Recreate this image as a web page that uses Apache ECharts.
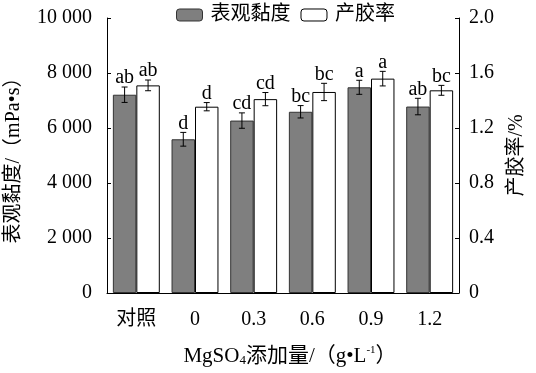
<!DOCTYPE html>
<html><head><meta charset="utf-8">
<script src="https://cdn.jsdelivr.net/npm/echarts@6/dist/echarts.min.js"></script>
<style>html,body{margin:0;padding:0;background:#fff}#c{width:536px;height:373px}</style>
</head><body><div id="c"></div>
<script>
const categories = ['对照', '0', '0.3', '0.6', '0.9', '1.2'];
const viscosity = [7210, 5590, 6270, 6590, 7480, 6780];
const viscosityErr = [280, 250, 280, 225, 255, 300];
const viscosityLetters = ['ab', 'd', 'cd', 'bc', 'a', 'ab'];
const yieldRate = [1.51, 1.355, 1.41, 1.462, 1.559, 1.474];
const yieldErr = [0.039, 0.03, 0.048, 0.063, 0.053, 0.036];
const yieldLetters = ['ab', 'd', 'cd', 'bc', 'a', 'bc'];
const leftTicks = ['0', '2 000', '4 000', '6 000', '8 000', '10 000'];
const rightTicks = ['0', '0.4', '0.8', '1.2', '1.6', '2.0'];

const FONT = '"Liberation Serif","Times New Roman","Noto Sans CJK SC",serif';
const FS = 20;
const chart = echarts.init(document.getElementById('c'));

function errSeries(vals, errs, letters, side, yIdx) {
  return {
    type: 'custom', yAxisIndex: yIdx, silent: true, z: 10,
    data: vals.map((v, i) => [i, v, errs[i], letters[i]]),
    renderItem: function (params, api) {
      const i = api.value(0), v = api.value(1), e = api.value(2);
      const band = api.size([1, 0])[0];
      const c = api.coord([i, v]);
      const x = c[0] + side * band * 0.2;
      const top = api.coord([i, v + e])[1];
      const bot = api.coord([i, v - e])[1];
      const cap = 3;
      const st = { stroke: '#000', lineWidth: 1 };
      return { type: 'group', children: [
        { type: 'line', shape: { x1: x, y1: top, x2: x, y2: bot }, style: st },
        { type: 'line', shape: { x1: x - cap, y1: top, x2: x + cap, y2: top }, style: st },
        { type: 'line', shape: { x1: x - cap, y1: bot, x2: x + cap, y2: bot }, style: st },
        { type: 'text', x: x, y: top + 1, style: { text: letters[i], fill: '#000', font: FS + 'px ' + FONT, align: 'center', verticalAlign: 'bottom' } }
      ]};
    }
  };
}

chart.setOption({
  animation: false,
  textStyle: { fontFamily: FONT },
  legend: {
    left: 171, top: 0, itemWidth: 26, itemHeight: 12, itemGap: 10,
    textStyle: { fontSize: FS, color: '#000', fontFamily: FONT, padding: [0, 0, 0, 3] },
    data: [
      { name: '表观黏度', itemStyle: { color: '#7f7f7f', borderColor: '#333', borderWidth: 1 } },
      { name: '产胶率', itemStyle: { color: '#fff', borderColor: '#000', borderWidth: 1 } }
    ]
  },
  grid: { left: 107, right: 77, top: 18, bottom: 80, containLabel: false, outerBoundsMode: 'none' },
  xAxis: {
    type: 'category', data: categories,
    name: '{a|MgSO}{sub|4}{a|添加量/（g•L}{sup|-1}{a|）}',
    nameLocation: 'middle', nameGap: 52,
    nameTextStyle: { padding: [0, 0, 0, 14], rich: {
      a: { fontSize: 21, color: '#000', fontFamily: FONT },
      sub: { fontSize: 13, color: '#000', fontFamily: FONT, verticalAlign: 'bottom', padding: [9, 0, 0, 0] },
      sup: { fontSize: 11, color: '#000', fontFamily: FONT, verticalAlign: 'top', padding: [0, 0, 9, 0] }
    } },
    axisLine: { lineStyle: { color: '#000', width: 1 } },
    axisTick: { show: false },
    axisLabel: { color: '#000', fontSize: FS, margin: 17, fontFamily: FONT }
  },
  yAxis: [
    {
      type: 'value', min: 0, max: 10000, interval: 2000,
      name: '表观黏度/（mPa•s）', nameLocation: 'middle', nameGap: 83, nameRotate: 90,
      nameTextStyle: { fontSize: FS, color: '#000', fontFamily: FONT },
      axisLine: { show: true, lineStyle: { color: '#000', width: 1 } },
      axisTick: { show: true, inside: true, length: 4, lineStyle: { color: '#000' } },
      splitLine: { show: false },
      axisLabel: { color: '#000', fontSize: FS, margin: 15, fontFamily: FONT,
        formatter: v => leftTicks[Math.round(v / 2000)] }
    },
    {
      type: 'value', min: 0, max: 2, interval: 0.4, position: 'right',
      name: '产胶率/%', nameLocation: 'middle', nameGap: 48, nameRotate: 90,
      nameTextStyle: { fontSize: FS, color: '#000', fontFamily: FONT },
      axisLine: { show: true, lineStyle: { color: '#000', width: 1 } },
      axisTick: { show: true, inside: true, length: 4, lineStyle: { color: '#000' } },
      splitLine: { show: false },
      axisLabel: { color: '#000', fontSize: FS, margin: 10, fontFamily: FONT,
        formatter: v => rightTicks[Math.round(v / 0.4)] }
    }
  ],
  series: [
    { name: '表观黏度', type: 'bar', data: viscosity, yAxisIndex: 0, barGap: '0%', barCategoryGap: '20%',
      itemStyle: { color: '#7f7f7f', borderColor: '#333', borderWidth: 1 } },
    { name: '产胶率', type: 'bar', data: yieldRate, yAxisIndex: 1, barGap: '0%', barCategoryGap: '20%',
      itemStyle: { color: '#fff', borderColor: '#000', borderWidth: 1 } },
    errSeries(viscosity, viscosityErr, viscosityLetters, -1, 0),
    errSeries(yieldRate, yieldErr, yieldLetters, 1, 1)
  ]
});
</script></body></html>
